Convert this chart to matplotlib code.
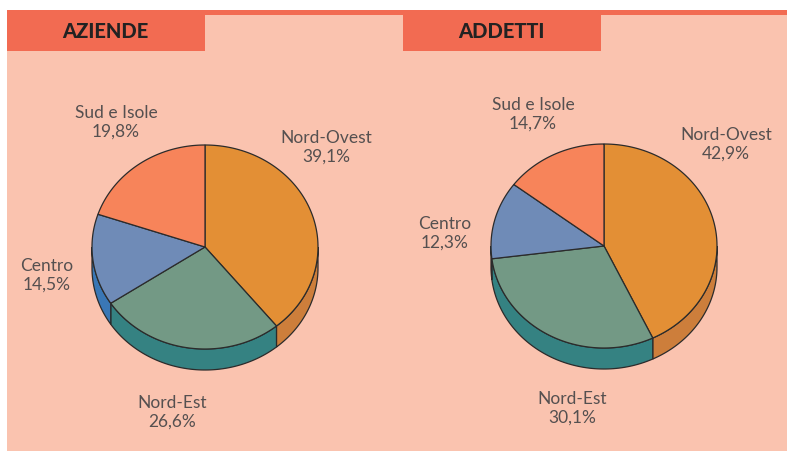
"""
Aziende e addetti per ripartizione geografica - two 3D pies.
"""

import numpy as np
import matplotlib.pyplot as plt
from matplotlib.patches import Polygon, Rectangle

# data
regions = ["Nord-Ovest", "Nord-Est", "Centro", "Sud e Isole"]
aziende = [39.1, 26.6, 14.5, 19.8]
addetti = [42.9, 30.1, 12.3, 14.7]
titles = ["AZIENDE", "ADDETTI"]

# styling
BG = '#FAC3AF'
HEADER = '#F26B52'
EDGE = '#2b2b2b'
TEXT = '#555050'
top_colors = ['#E38F35', '#739985', '#6F8BB7', '#F7845A']
side_colors = ['#CD7E3B', '#358282', '#3A77B5', '#E06B45']

plt.rcParams['font.family'] = ['Lato', 'DejaVu Sans']


def fmt(v):
    return f"{v:.1f}%".replace('.', ',')


def pie3d(ax, values, cx, cy, rx=113, ry=102, depth=21):
    """Draw a tilted pie: side walls first, then the top wedges."""
    bounds = np.concatenate([[0], np.cumsum(values)]) / np.sum(values) * 360
    # side walls (only the front half, 90..270 deg clockwise from 12 o'clock)
    for i in range(len(values)):
        lo, hi = max(bounds[i], 90), min(bounds[i + 1], 270)
        if hi <= lo:
            continue
        t = np.radians(np.linspace(lo, hi, 80))
        x = cx + rx * np.sin(t)
        y = cy - ry * np.cos(t)
        pts = np.column_stack([np.r_[x, x[::-1]], np.r_[y, y[::-1] + depth]])
        ax.add_patch(Polygon(pts, closed=True, fc=side_colors[i], ec=EDGE, lw=0.9))
    # top wedges
    for i in range(len(values)):
        t = np.radians(np.linspace(bounds[i], bounds[i + 1], 120))
        x = np.r_[cx, cx + rx * np.sin(t)]
        y = np.r_[cy, cy - ry * np.cos(t)]
        ax.add_patch(Polygon(np.column_stack([x, y]), closed=True,
                             fc=top_colors[i], ec=EDGE, lw=0.9))


fig = plt.figure(figsize=(7.88, 4.56), dpi=100)
fig.patch.set_facecolor('white')
ax = fig.add_axes([0, 0, 1, 1])
ax.set_xlim(0, 788)
ax.set_ylim(456, 0)
ax.axis('off')

# panel, top rule and header tabs
ax.add_patch(Rectangle((7, 11), 780, 441, fc=BG, ec='none'))
ax.add_patch(Rectangle((7, 11), 780, 5, fc=HEADER, ec='none'))
for x0, title in zip([7, 403], titles):
    ax.add_patch(Rectangle((x0, 11), 198, 41, fc=HEADER, ec='none'))
    ax.text(x0 + 98, 31, title, ha='center', va='center', fontsize=14.5,
            fontweight='black', color='#222222')

# pies
pie3d(ax, aziende, 205, 248)
pie3d(ax, addetti, 604, 247)

# label anchors (centre of the two-line label) for each pie
label_pos = [
    {"Nord-Ovest": (326, 147), "Nord-Est": (172, 412), "Centro": (47, 275), "Sud e Isole": (116, 122)},
    {"Nord-Ovest": (726, 144), "Nord-Est": (572, 408), "Centro": (445, 233), "Sud e Isole": (533, 114)},
]
for values, pos in zip([aziende, addetti], label_pos):
    for name, v in zip(regions, values):
        x, y = pos[name]
        ax.text(x, y, f"{name}\n{fmt(v)}", ha='center', va='center', fontsize=12.5,
                fontweight='normal', color=TEXT, linespacing=1.2)

fig.savefig('out.png', dpi=100, facecolor=fig.get_facecolor())
